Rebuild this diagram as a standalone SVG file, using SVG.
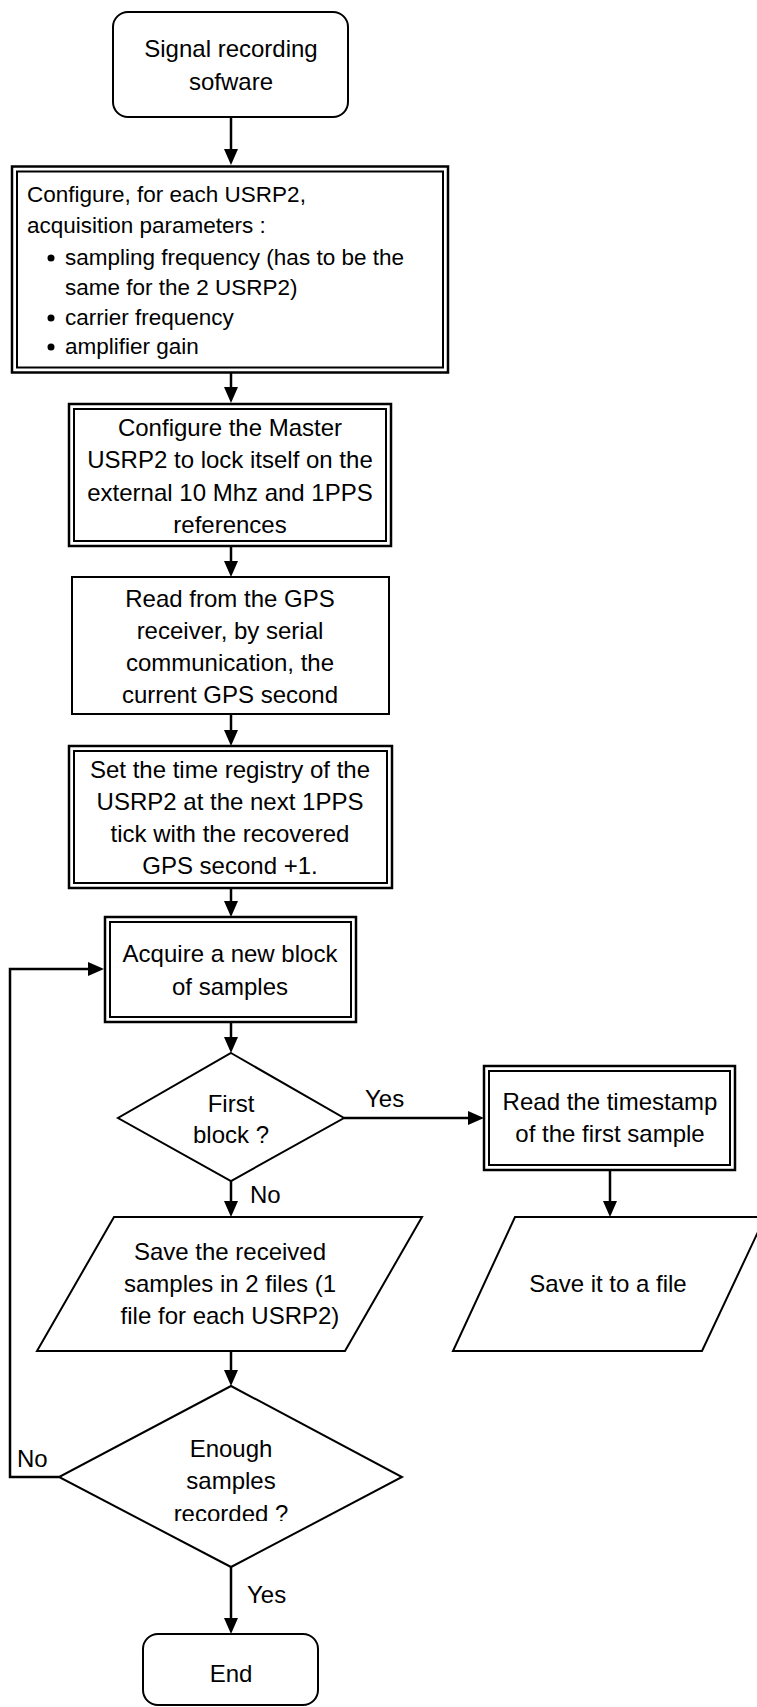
<svg xmlns="http://www.w3.org/2000/svg" width="757" height="1707" viewBox="0 0 757 1707">
<style>
.shape{fill:#fff;stroke:#000;stroke-width:2}
.dbo{fill:#fff;stroke:#000;stroke-width:2.5}
.dbi{fill:none;stroke:#000;stroke-width:2}
.conn{fill:none;stroke:#000;stroke-width:2.5}
.arr{marker-end:url(#arrow)}
text{font-family:"Liberation Sans",Arial,sans-serif;font-size:24px;fill:#000}
.c{text-anchor:middle}
.b2{font-size:22.5px}
</style>
<defs>
<marker id="arrow" markerUnits="userSpaceOnUse" markerWidth="16" markerHeight="14" refX="8" refY="7" orient="auto">
<path d="M0,0 L16,7 L0,14 Z" fill="#000"/>
</marker>
<clipPath id="clipRec"><rect x="0" y="1400" width="757" height="121"/></clipPath>
</defs>
<rect width="757" height="1707" fill="#fff"/>

<g id="connectors">
<line class="conn arr" x1="231" y1="117" x2="231" y2="157"/>
<line class="conn arr" x1="231" y1="373" x2="231" y2="395"/>
<line class="conn arr" x1="231" y1="546" x2="231" y2="569"/>
<line class="conn arr" x1="231" y1="714" x2="231" y2="738"/>
<line class="conn arr" x1="231" y1="888" x2="231" y2="909"/>
<line class="conn arr" x1="231" y1="1022" x2="231" y2="1045"/>
<line class="conn arr" x1="344" y1="1118" x2="476" y2="1118"/>
<line class="conn arr" x1="231" y1="1181" x2="231" y2="1209"/>
<line class="conn arr" x1="610" y1="1170" x2="610" y2="1209"/>
<line class="conn arr" x1="231" y1="1351" x2="231" y2="1378"/>
<polyline class="conn arr" points="59,1477 10,1477 10,969 96,969"/>
<line class="conn arr" x1="231" y1="1567" x2="231" y2="1626"/>
<text x="365" y="1107">Yes</text>
<text x="250" y="1203">No</text>
<text x="17" y="1467">No</text>
<text x="247" y="1603">Yes</text>
</g>

<g id="start">
<rect class="shape" x="113" y="12" width="235" height="105" rx="15"/>
<text class="c" x="231" y="57">Signal recording</text>
<text class="c" x="231" y="90">sofware</text>
</g>

<g id="configure-params">
<rect class="dbo" x="12" y="166.5" width="436" height="206"/>
<rect class="dbi" x="17" y="171.5" width="426" height="196"/>
<text class="b2" x="27" y="202">Configure, for each USRP2,</text>
<text class="b2" x="27" y="233">acquisition parameters :</text>
<circle cx="51" cy="258" r="3.5"/>
<text class="b2" x="65" y="265">sampling frequency (has to be the</text>
<text class="b2" x="65" y="295">same for the 2 USRP2)</text>
<circle cx="51" cy="318" r="3.5"/>
<text class="b2" x="65" y="325">carrier frequency</text>
<circle cx="51" cy="347" r="3.5"/>
<text class="b2" x="65" y="354">amplifier gain</text>
</g>

<g id="configure-master">
<rect class="dbo" x="69" y="404" width="322" height="142"/>
<rect class="dbi" x="74" y="409" width="312" height="132"/>
<text class="c" x="230" y="436">Configure the Master</text>
<text class="c" x="230" y="468">USRP2 to lock itself on the</text>
<text class="c" x="230" y="501">external 10 Mhz and 1PPS</text>
<text class="c" x="230" y="533">references</text>
</g>

<g id="read-gps">
<rect class="shape" x="72" y="577" width="317" height="137"/>
<text class="c" x="230" y="607">Read from the GPS</text>
<text class="c" x="230" y="639">receiver, by serial</text>
<text class="c" x="230" y="671">communication, the</text>
<text class="c" x="230" y="703">current GPS second</text>
</g>

<g id="set-time">
<rect class="dbo" x="69" y="746" width="323" height="142"/>
<rect class="dbi" x="74" y="751" width="313" height="132"/>
<text class="c" x="230" y="778">Set the time registry of the</text>
<text class="c" x="230" y="810">USRP2 at the next 1PPS</text>
<text class="c" x="230" y="842">tick with the recovered</text>
<text class="c" x="230" y="874">GPS second +1.</text>
</g>

<g id="acquire">
<rect class="dbo" x="105" y="917" width="251" height="105"/>
<rect class="dbi" x="110" y="922" width="241" height="95"/>
<text class="c" x="230" y="962">Acquire a new block</text>
<text class="c" x="230" y="995">of samples</text>
</g>

<g id="first-block">
<polygon class="shape" points="231,1053 344,1118 231,1181 118,1118"/>
<text class="c" x="231" y="1112">First</text>
<text class="c" x="231" y="1143">block ?</text>
</g>

<g id="read-timestamp">
<rect class="dbo" x="484" y="1066" width="251" height="104"/>
<rect class="dbi" x="489" y="1071" width="241" height="94"/>
<text class="c" x="610" y="1110">Read the timestamp</text>
<text class="c" x="610" y="1142">of the first sample</text>
</g>

<g id="save-samples">
<polygon class="shape" points="114,1217 422,1217 345,1351 37,1351"/>
<text class="c" x="230" y="1260">Save the received</text>
<text class="c" x="230" y="1292">samples in 2 files (1</text>
<text class="c" x="230" y="1324">file for each USRP2)</text>
</g>

<g id="save-timestamp">
<polygon class="shape" points="515,1217 765,1217 702,1351 453,1351"/>
<text class="c" x="608" y="1292">Save it to a file</text>
</g>

<g id="enough">
<polygon class="shape" points="231,1386 402,1477 231,1567 59,1477"/>
<text class="c" x="231" y="1457">Enough</text>
<text class="c" x="231" y="1489">samples</text>
<text class="c" x="231" y="1522" clip-path="url(#clipRec)">recorded ?</text>
</g>

<g id="end">
<rect class="shape" x="143" y="1634" width="175" height="71" rx="15"/>
<text class="c" x="231" y="1682">End</text>
</g>
</svg>
